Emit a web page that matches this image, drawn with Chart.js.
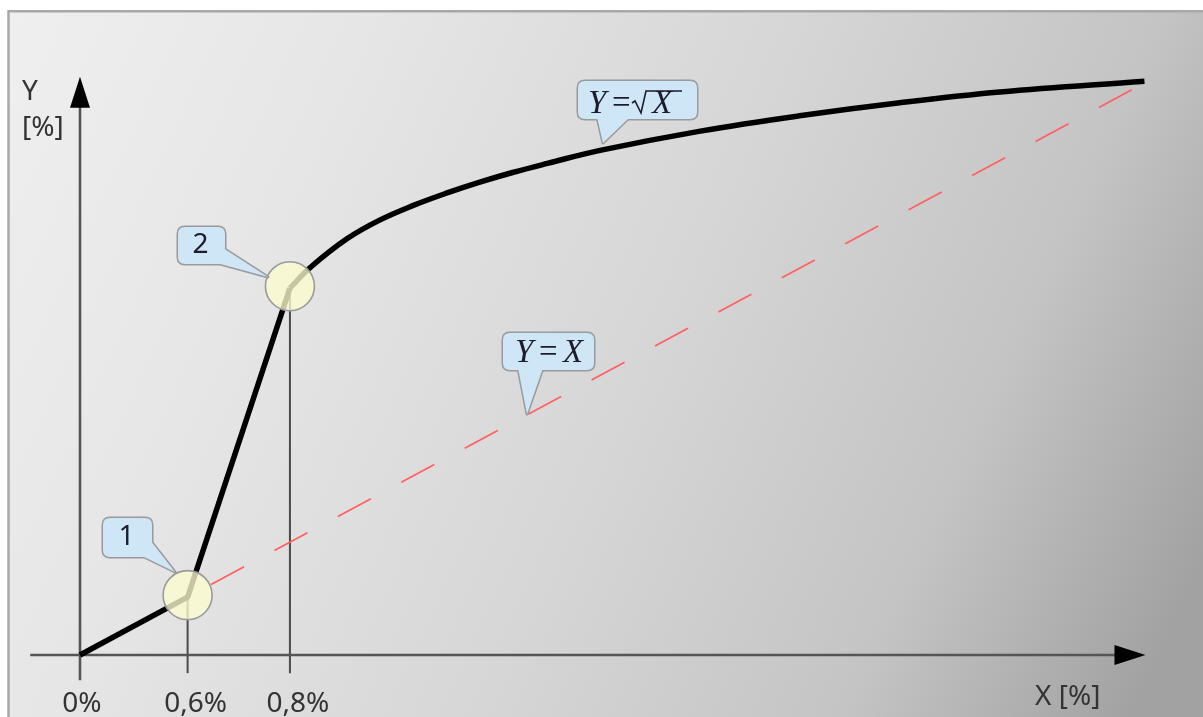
<!DOCTYPE html>
<html>
<head>
<meta charset="utf-8">
<script src="https://cdn.jsdelivr.net/npm/chart.js@4/dist/chart.umd.min.js"></script>
<style>
  html, body { margin: 0; padding: 0; background: #fff; }
  canvas { display: block; }
</style>
</head>
<body>
<canvas id="chart" width="1203" height="717"></canvas>
<script>
// schematic units: origin at (0,0), Y = X runs to about (10,10)
var kneeX = [0, 1.02, 1.99];
var kneeY = [0, 1.02, 6.47];

var curveX = [1.99, 2.18, 2.53, 2.84, 3.16, 3.48, 3.79, 4.10, 4.43, 4.93, 5.88, 6.82, 7.77, 8.72, 10.09];
var curveY = [6.47, 6.83, 7.34, 7.67, 7.93, 8.15, 8.34, 8.51, 8.67, 8.90, 9.24, 9.51, 9.74, 9.93, 10.12];

var identityX = [1.02, 9.97];
var identityY = [1.02, 9.97];

var xTickValues = [0, 1.02, 1.99];
var xTickLabels = ['0%', '0,6%', '0,8%'];

var markerIndex = [1, 2];   // points of the knee line that get a circle

function toPoints(xs, ys) {
    return xs.map(function (x, i) { return { x: x, y: ys[i] }; });
}

var LABEL_FONT = "28px 'Noto Sans', 'Open Sans', sans-serif";
var MATH_FONT = "italic 33px 'Liberation Serif', 'DejaVu Serif', serif";
var MATH_FONT_UP = "33px 'Liberation Serif', 'DejaVu Serif', serif";

// callout boxes (pixels) with pointer base and tip
var callouts = [
    { box: [103, 518, 49, 39], base: [[150, 540], [140, 555]], tip: [175, 572], text: '1' },
    { box: [178, 227, 47, 37], base: [[223, 248], [213, 262]], tip: [268, 277], text: '2' },
    { box: [578, 81, 119, 38], base: [[597, 117], [630, 117]], tip: [603, 143], math: 'sqrt' },
    { box: [503, 333, 91, 37], base: [[518, 368], [543, 368]], tip: [527, 414], math: 'id' }
];

function roundRect(ctx, x, y, w, h, r) {
    ctx.beginPath();
    ctx.moveTo(x + r, y);
    ctx.lineTo(x + w - r, y);
    ctx.quadraticCurveTo(x + w, y, x + w, y + r);
    ctx.lineTo(x + w, y + h - r);
    ctx.quadraticCurveTo(x + w, y + h, x + w - r, y + h);
    ctx.lineTo(x + r, y + h);
    ctx.quadraticCurveTo(x, y + h, x, y + h - r);
    ctx.lineTo(x, y + r);
    ctx.quadraticCurveTo(x, y, x + r, y);
    ctx.closePath();
}

function pointerPath(ctx, c) {
    ctx.beginPath();
    ctx.moveTo(c.base[0][0], c.base[0][1]);
    ctx.lineTo(c.tip[0], c.tip[1]);
    ctx.lineTo(c.base[1][0], c.base[1][1]);
    ctx.closePath();
}

function drawCallout(ctx, c) {
    var b = c.box;
    ctx.save();
    ctx.lineWidth = 3;
    ctx.strokeStyle = '#9a9a9a';
    ctx.lineJoin = 'round';
    roundRect(ctx, b[0], b[1], b[2], b[3], 7);
    ctx.stroke();
    pointerPath(ctx, c);
    ctx.stroke();
    ctx.fillStyle = '#cfe6f6';
    roundRect(ctx, b[0], b[1], b[2], b[3], 7);
    ctx.fill();
    pointerPath(ctx, c);
    ctx.fill();

    ctx.fillStyle = '#1c1c2c';
    if (c.text) {
        ctx.font = LABEL_FONT;
        ctx.textAlign = 'center';
        ctx.textBaseline = 'middle';
        ctx.fillText(c.text, b[0] + b[2] / 2 - 1, b[1] + b[3] / 2);
    } else if (c.math === 'id') {
        var bl = b[1] + 29;
        ctx.textBaseline = 'alphabetic';
        ctx.textAlign = 'left';
        ctx.font = MATH_FONT;
        ctx.fillText('Y', b[0] + 12, bl);
        ctx.font = MATH_FONT_UP;
        ctx.fillText('=', b[0] + 36, bl);
        ctx.font = MATH_FONT;
        ctx.fillText('X', b[0] + 60, bl);
    } else if (c.math === 'sqrt') {
        var bl2 = b[1] + 32;
        ctx.textBaseline = 'alphabetic';
        ctx.textAlign = 'left';
        ctx.font = MATH_FONT;
        ctx.fillText('Y', b[0] + 10, bl2);
        ctx.font = MATH_FONT_UP;
        ctx.fillText('=', b[0] + 34, bl2);
        // radical sign
        var rx = b[0] + 54;
        ctx.strokeStyle = '#1c1c2c';
        ctx.lineWidth = 1.6;
        ctx.lineJoin = 'miter';
        ctx.beginPath();
        ctx.moveTo(rx, bl2 - 10);
        ctx.lineTo(rx + 3, bl2 - 12);
        ctx.lineTo(rx + 9, bl2);
        ctx.lineTo(rx + 14, bl2 - 22);
        ctx.lineTo(rx + 50, bl2 - 22);
        ctx.stroke();
        ctx.font = MATH_FONT;
        ctx.fillText('X', b[0] + 74, bl2);
    }
    ctx.restore();
}

var diagram = {
    id: 'diagram',
    beforeDraw: function (chart) {
        var ctx = chart.ctx;
        ctx.save();
        ctx.fillStyle = '#ffffff';
        ctx.fillRect(0, 0, chart.width, chart.height);
        var g = ctx.createLinearGradient(8, 11, 1203, 560);
        g.addColorStop(0, '#efefef');
        g.addColorStop(0.25, '#e6e6e6');
        g.addColorStop(0.55, '#d6d6d6');
        g.addColorStop(0.8, '#c4c4c4');
        g.addColorStop(1, '#a2a2a2');
        ctx.fillStyle = g;
        ctx.fillRect(9, 12, chart.width, chart.height);
        ctx.strokeStyle = '#a8a8a8';
        ctx.lineWidth = 2.5;
        ctx.beginPath();
        ctx.moveTo(8.5, chart.height + 2);
        ctx.lineTo(8.5, 11.2);
        ctx.lineTo(chart.width + 2, 11.2);
        ctx.stroke();
        ctx.restore();
    },
    beforeDatasetsDraw: function (chart) {
        var ctx = chart.ctx;
        var xs = chart.scales.x, ys = chart.scales.y;
        var x0 = xs.getPixelForValue(0), y0 = ys.getPixelForValue(0);
        var xEnd = xs.getPixelForValue(xs.max), yTop = ys.getPixelForValue(ys.max);
        ctx.save();
        // drop lines at the marked points
        ctx.strokeStyle = '#4a4a4a';
        ctx.lineWidth = 2;
        markerIndex.forEach(function (i) {
            var px = xs.getPixelForValue(kneeX[i]);
            ctx.beginPath();
            ctx.moveTo(px, ys.getPixelForValue(kneeY[i]));
            ctx.lineTo(px, ys.getPixelForValue(-0.32));
            ctx.stroke();
        });
        // axes
        ctx.strokeStyle = '#555555';
        ctx.lineWidth = 2.6;
        ctx.beginPath();
        ctx.moveTo(x0, ys.getPixelForValue(ys.min) - 3);
        ctx.lineTo(x0, yTop + 20);
        ctx.moveTo(xs.getPixelForValue(xs.min) + 3, y0);
        ctx.lineTo(xEnd - 20, y0);
        ctx.stroke();
        // arrow heads
        ctx.fillStyle = '#000000';
        ctx.beginPath();
        ctx.moveTo(x0, yTop);
        ctx.lineTo(x0 + 10, yTop + 31);
        ctx.lineTo(x0 - 10, yTop + 31);
        ctx.closePath();
        ctx.fill();
        ctx.beginPath();
        ctx.moveTo(xEnd, y0);
        ctx.lineTo(xEnd - 31, y0 - 10);
        ctx.lineTo(xEnd - 31, y0 + 10);
        ctx.closePath();
        ctx.fill();
        ctx.restore();
    },
    afterDatasetsDraw: function (chart) {
        var ctx = chart.ctx;
        var xs = chart.scales.x, ys = chart.scales.y;
        ctx.save();
        // highlight circles
        markerIndex.forEach(function (i) {
            var px = xs.getPixelForValue(kneeX[i]);
            var py = ys.getPixelForValue(kneeY[i]);
            ctx.beginPath();
            ctx.arc(px, py - 2, 24.5, 0, Math.PI * 2);
            ctx.fillStyle = 'rgba(252, 252, 208, 0.78)';
            ctx.fill();
            ctx.strokeStyle = '#9a9a9a';
            ctx.lineWidth = 1.6;
            ctx.stroke();
        });
        callouts.forEach(function (c) { drawCallout(ctx, c); });

        // axis texts
        ctx.fillStyle = '#333333';
        ctx.font = LABEL_FONT;
        ctx.textBaseline = 'alphabetic';
        ctx.textAlign = 'center';
        xTickValues.forEach(function (v, i) {
            ctx.fillText(xTickLabels[i], xs.getPixelForValue(v) + (i === 0 ? 2 : 8), 712);
        });
        ctx.textAlign = 'left';
        ctx.fillText('Y', 22, 100);
        ctx.fillText('[%]', 22, 136);
        ctx.fillText('X [%]', 1035, 705);
        ctx.restore();
    }
};

new Chart(document.getElementById('chart'), {
    type: 'scatter',
    data: {
        datasets: [{
            data: toPoints(kneeX, kneeY),
            showLine: true,
            borderColor: '#000000',
            borderWidth: 5.5,
            borderJoinStyle: 'round',
            pointRadius: 0
        }, {
            data: toPoints(curveX, curveY),
            showLine: true,
            borderColor: '#000000',
            borderWidth: 5.5,
            tension: 0.4,
            pointRadius: 0
        }, {
            data: toPoints(identityX, identityY),
            showLine: true,
            borderColor: '#ff5f5f',
            borderWidth: 1.7,
            borderDash: [37.5, 34.5],
            borderDashOffset: 45.4,
            pointRadius: 0
        }]
    },
    options: {
        responsive: false,
        animation: false,
        layout: { padding: { left: 27.25, right: 57.5, top: 76.7, bottom: 33.65 } },
        scales: {
            x: { type: 'linear', min: -0.5, max: 10.1, display: false },
            y: { type: 'linear', min: -0.5, max: 10.2, display: false }
        },
        plugins: {
            legend: { display: false },
            tooltip: { enabled: false }
        },
        events: []
    },
    plugins: [diagram]
});
</script>
</body>
</html>
